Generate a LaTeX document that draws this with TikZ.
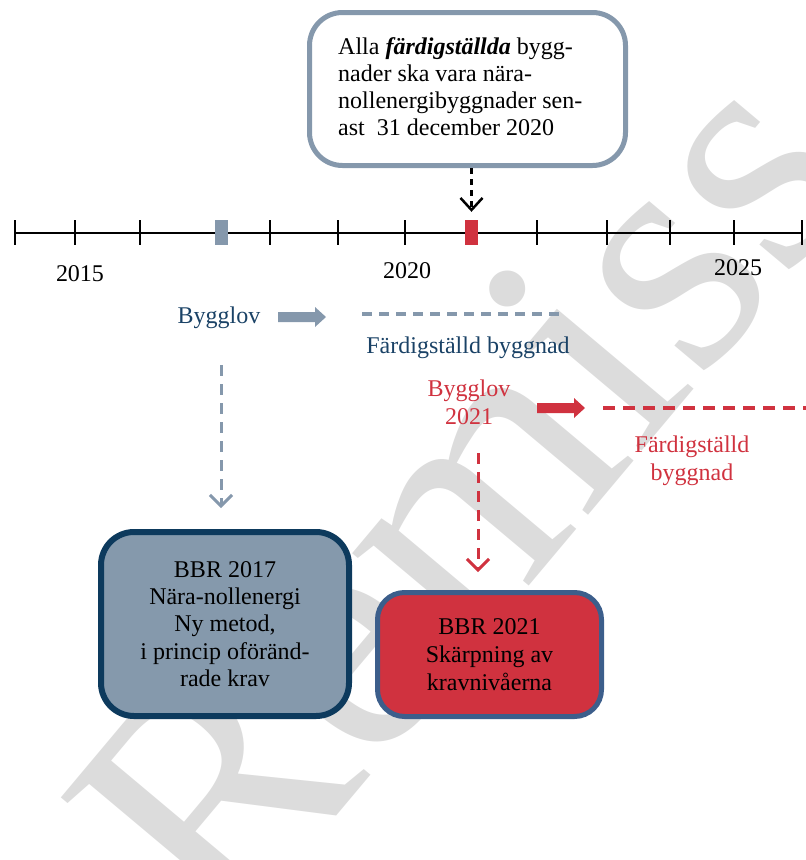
\documentclass[tikz,border=0pt]{standalone}
\usepackage{fontspec}
\setmainfont{Liberation Serif}
\usetikzlibrary{arrows.meta}
\definecolor{gb}{HTML}{8598AC}
\definecolor{boxgb}{HTML}{8599AC}
\definecolor{navy}{HTML}{0D3A5D}
\definecolor{dblue}{HTML}{1A4266}
\definecolor{rd}{HTML}{D0323F}
\definecolor{rdborder}{HTML}{3C5E8B}
\definecolor{wmgray}{HTML}{DCDCDC}
\begin{document}
\begin{tikzpicture}[x=1pt,y=-1pt,
  lbl/.style={font=\fontsize{24}{27.5}\selectfont, inner sep=0pt},
  watermark/.style={text=wmgray, font=\fontsize{340}{340}\selectfont, rotate=50, anchor=base west, inner sep=0pt},
  axis/.style={draw=black, line width=2.7pt},
  tickline/.style={draw=black, line width=2.5pt},
  mkblue/.style={fill=gb, minimum width=13pt, minimum height=25pt, inner sep=0pt, draw=none},
  mkred/.style={fill=rd, minimum width=13pt, minimum height=25pt, inner sep=0pt, draw=none},
  callbox/.style={draw=gb, line width=5pt, rounded corners=33pt, fill=white, inner sep=0pt, minimum width=316pt, minimum height=153pt},
  blkdash/.style={draw=black, line width=2.5pt, dash pattern=on 6pt off 5pt, -{Straight Barb[length=12pt,width=22pt]}},
  bdash/.style={draw=gb, line width=3.5pt, dash pattern=on 10pt off 7pt},
  rdash/.style={draw=rd, line width=3.5pt, dash pattern=on 12pt off 8pt},
  bvdash/.style={draw=gb, line width=3pt, dash pattern=on 11pt off 8pt, -{Straight Barb[length=11pt,width=22pt]}},
  rvdash/.style={draw=rd, line width=3pt, dash pattern=on 11pt off 8pt, -{Straight Barb[length=11pt,width=22pt]}},
  box17/.style={draw=navy, fill=boxgb, line width=6pt, rounded corners=33pt, minimum width=248pt, minimum height=184pt, align=center, font=\fontsize{24}{27.2}\selectfont, inner sep=0pt},
  box21/.style={draw=rdborder, fill=rd, line width=5pt, rounded corners=27pt, minimum width=224pt, minimum height=124pt, align=center, font=\fontsize{24}{28}\selectfont, inner sep=0pt}
]
\useasboundingbox (0,0) rectangle (806,860);
% watermark
\begin{scope}
\clip (0,0) rectangle (806,860);
\node[watermark] (wmk) at (225,949) {Remiss};
\end{scope}
% timeline
\coordinate (t0) at (15,233);
\coordinate (t1) at (803,233);
\draw[axis] (t0) -- (t1);
\foreach \x in {15,75,140,270,338,405,537,607,670,734,802}
  \draw[tickline] (\x,220) -- (\x,245);
\node[mkblue] (m17) at (221.5,232.5) {};
\node[mkred] (m21) at (471.5,232.5) {};
% years
\node[lbl, anchor=base] (y15) at (80,281) {2015};
\node[lbl, anchor=base] (y20) at (407,278) {2020};
\node[lbl, anchor=base] (y25) at (738,275) {2025};
% callout
\node[callbox] (call) at (467.5,89) {};
\node[lbl, anchor=base west, align=left, font=\fontsize{24}{26.7}\selectfont] (calltxt) at (338,135)
  {Alla \textbf{\textit{färdigställda}} bygg-\\nader ska vara nära-\\nollenergibyggnader sen-\\ast~ 31 december 2020};
\draw[blkdash] (call.south -| m21.north) -- ([yshift=8pt]m21.north);
% blue row
\node[lbl, text=dblue, anchor=base] (bl) at (219,323) {Bygglov};
\node[lbl, text=dblue, anchor=base] (bf) at (468,353) {Färdigställd byggnad};
\coordinate (ba0) at (278,317);
\fill[gb] (ba0) ++(0,-5) -- ++(37,0) -- ++(0,-5) -- ++(11,10) -- ++(-11,10) -- ++(0,-5) -- ++(-37,0) -- cycle;
\coordinate (bd0) at (362,314);
\coordinate (bd1) at (560,314);
\draw[bdash] (bd0) -- (bd1);
% red row
\node[lbl, text=rd, anchor=base, align=center] (rl) at (469,424) {Bygglov\\2021};
\node[lbl, text=rd, anchor=base, align=center] (rf) at (692,480) {Färdigställd\\byggnad};
\coordinate (ra0) at (537,408);
\fill[rd] (ra0) ++(0,-5) -- ++(37,0) -- ++(0,-5) -- ++(11,10) -- ++(-11,10) -- ++(0,-5) -- ++(-37,0) -- cycle;
\coordinate (rd0) at (603,408);
\coordinate (rd1) at (810,408);
\draw[rdash] (rd0) -- (rd1);
% boxes
\node[box17] (b17) at (225,624) {BBR 2017\\Nära-nollenergi\\Ny metod,\\i princip oföränd-\\rade krav};
\node[box21] (b21) at (489.5,654.5) {BBR 2021\\Skärpning av\\kravnivåerna};
% vertical arrows
\coordinate (bv0) at (221,365);
\path (bv0 |- b17.north) ++(0,-21) coordinate (bv1);
\draw[bvdash] (bv0) -- (bv1);
\coordinate (rv0) at (478,453);
\path (rv0 |- b21.north) ++(0,-18) coordinate (rv1);
\draw[rvdash] (rv0) -- (rv1);
\end{tikzpicture}
\end{document}
